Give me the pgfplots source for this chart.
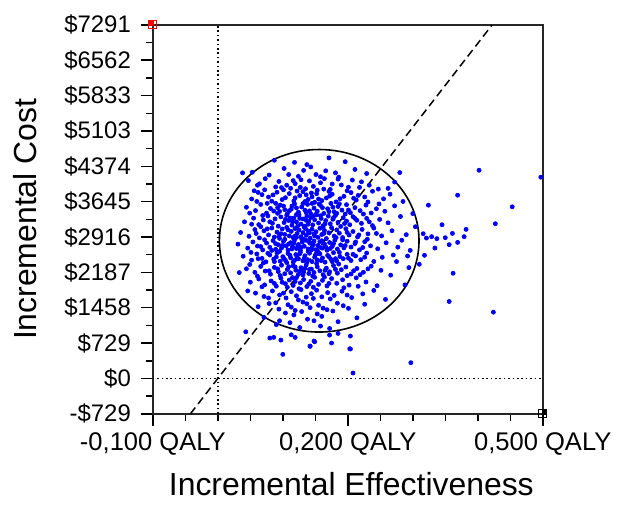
\documentclass[border=0pt]{standalone}
\usepackage{pgfplots}
\pgfplotsset{compat=1.18}
\usepackage{fontspec}
\setmainfont{Liberation Sans}
\definecolor{ptblue}{RGB}{0,0,255}

\begin{document}
\begin{tikzpicture}
\begin{axis}[
    scale only axis,
    width=195.5pt, height=195pt,
    xmin=-0.1, xmax=0.5,
    ymin=-729.1, ymax=7291,
    clip=false,
    xtick={-0.1,0.2,0.5},
    xticklabels={{-0,100 QALY},{0,200 QALY},{0,500 QALY}},
    minor xtick={-0.05,0,0.05,0.1,0.15,0.25,0.3,0.35,0.4,0.45},
    ytick={-729.1,0,729.1,1458.2,2187.3,2916.4,3645.5,4374.6,5103.7,5832.8,6561.9,7291},
    yticklabels={-\$729,\$0,\$729,\$1458,\$2187,\$2916,\$3645,\$4374,\$5103,\$5833,\$6562,\$7291},
    minor y tick num=1,
    xtick pos=lower, ytick pos=left,
    tick align=outside,
    major tick length=6pt, minor tick length=3.5pt,
    tick style={black, line width=0.75pt},
    axis line style={black!85, line width=1pt},
    yticklabel style={font=\fontsize{12}{14}\selectfont, xshift=-1.5pt},
    xticklabel style={font=\fontsize{12.8}{15}\selectfont},
    xlabel={Incremental Effectiveness},
    ylabel={Incremental Cost},
    every axis x label/.style={at={(axis description cs:0.509,-0.21)}, anchor=base, font=\fontsize{16}{19}\selectfont},
    every axis y label/.style={at={(axis description cs:-0.327,0.5)}, rotate=90, anchor=center, font=\fontsize{16}{19}\selectfont},
]
% page frame
\path (rel axis cs:-0.392,-0.256) rectangle (rel axis cs:1.189,1.064);

% reference lines
\addplot[black, line width=0.8pt, dash pattern=on 0.8pt off 1.4pt] coordinates {(0,-729.1) (0,7291)};
\addplot[black, line width=0.8pt, dash pattern=on 0.8pt off 1.4pt] coordinates {(-0.1,0) (0.5,0)};
\addplot[black, line width=0.75pt, dash pattern=on 4pt off 2.3pt] coordinates {(-0.04221,-729.1) (0.4221,7291)};

% simulations
\addplot[only marks, mark=*, mark size=1pt, color=ptblue] coordinates {
(0.087,4499) (0.137,4410) (0.171,4548) (0.118,4455) (0.196,4470)
(0.038,4240) (0.053,4252) (0.151,4205) (0.102,4330) (0.166,4282) (0.124,4168) (0.211,4310) (0.079,4195) (0.143,4361) (0.186,4150) (0.229,4226)
(0.061,3985) (0.094,4062) (0.112,3921) (0.128,4098) (0.147,3960) (0.158,4035) (0.173,3898) (0.185,4110) (0.201,3944) (0.072,3890)
(0.135,3912) (0.119,4017) (0.164,4120) (0.098,3936) (0.221,4055) (0.247,3905) (0.047,4080) (0.190,3990) (0.141,4074) (0.106,3985)
(0.052,3702) (0.068,3790) (0.083,3655) (0.091,3840) (0.104,3728) (0.110,3812) (0.117,3660) (0.126,3771) (0.131,3852) (0.139,3690)
(0.145,3745) (0.152,3810) (0.160,3668) (0.167,3722) (0.176,3798) (0.182,3641) (0.194,3755) (0.205,3833) (0.213,3679) (0.226,3742)
(0.238,3860) (0.255,3704) (0.078,3741) (0.122,3866) (0.149,3632) (0.171,3857) (0.099,3689) (0.136,3785) (0.188,3706) (0.062,3836)
(0.216,3774) (0.265,3800)
(0.044,3530) (0.058,3462) (0.066,3588) (0.075,3410) (0.081,3505) (0.089,3611) (0.095,3444) (0.101,3556) (0.107,3397) (0.113,3490)
(0.118,3602) (0.124,3428) (0.129,3535) (0.134,3470) (0.138,3590) (0.143,3395) (0.148,3512) (0.153,3448) (0.158,3567) (0.163,3403)
(0.169,3499) (0.174,3610) (0.179,3437) (0.185,3546) (0.191,3471) (0.198,3584) (0.204,3418) (0.211,3523) (0.219,3460) (0.228,3575)
(0.236,3412) (0.244,3500) (0.257,3447) (0.272,3560) (0.121,3518) (0.136,3420) (0.156,3598) (0.092,3522) (0.177,3532) (0.110,3459)
(0.145,3610) (0.196,3390)
(0.041,3230) (0.055,3305) (0.063,3172) (0.070,3268) (0.077,3351) (0.084,3199) (0.088,3290) (0.093,3140) (0.097,3332) (0.102,3215)
(0.106,3366) (0.109,3258) (0.114,3160) (0.117,3310) (0.121,3228) (0.125,3372) (0.128,3183) (0.131,3289) (0.134,3142) (0.137,3345)
(0.140,3240) (0.143,3318) (0.146,3167) (0.149,3271) (0.152,3374) (0.155,3205) (0.159,3300) (0.162,3148) (0.166,3256) (0.170,3348)
(0.173,3190) (0.177,3283) (0.181,3362) (0.185,3220) (0.189,3135) (0.193,3315) (0.198,3244) (0.203,3170) (0.208,3336) (0.214,3262)
(0.221,3198) (0.229,3301) (0.238,3152) (0.249,3279) (0.262,3210) (0.281,3340) (0.115,3233) (0.139,3180) (0.158,3356) (0.126,3302)
(0.035,3010) (0.048,2932) (0.057,3070) (0.064,2898) (0.071,3045) (0.078,2960) (0.083,3102) (0.087,2915) (0.091,3018) (0.095,2887)
(0.099,3082) (0.103,2970) (0.106,3115) (0.110,2940) (0.113,3033) (0.116,2902) (0.119,3090) (0.122,2988) (0.125,3060) (0.128,2921)
(0.131,3007) (0.133,3118) (0.136,2952) (0.139,3040) (0.142,2893) (0.145,3078) (0.148,2977) (0.151,3025) (0.154,2910) (0.157,3096)
(0.160,2968) (0.164,3052) (0.167,2885) (0.171,3005) (0.175,3110) (0.179,2936) (0.183,3064) (0.187,2995) (0.192,2905) (0.197,3087)
(0.202,2958) (0.208,3030) (0.215,2918) (0.222,3073) (0.231,2982) (0.240,3101) (0.252,2940) (0.268,3047) (0.290,2965) (0.118,2930)
(0.141,3002) (0.162,3121) (0.129,2880) (0.097,2985)
(0.031,2770) (0.046,2688) (0.054,2815) (0.061,2730) (0.069,2651) (0.075,2792) (0.080,2705) (0.085,2842) (0.089,2663) (0.093,2758)
(0.098,2690) (0.101,2825) (0.105,2733) (0.108,2648) (0.112,2800) (0.115,2716) (0.118,2856) (0.121,2679) (0.124,2762) (0.127,2640)
(0.130,2811) (0.133,2725) (0.136,2849) (0.139,2670) (0.142,2787) (0.145,2702) (0.148,2835) (0.151,2655) (0.154,2741) (0.157,2818)
(0.161,2687) (0.164,2776) (0.168,2644) (0.172,2803) (0.176,2722) (0.180,2851) (0.184,2668) (0.189,2755) (0.194,2693) (0.199,2830)
(0.205,2710) (0.211,2781) (0.218,2652) (0.226,2820) (0.235,2735) (0.246,2674) (0.259,2798) (0.277,2708) (0.123,2733) (0.144,2650)
(0.109,2771) (0.166,2712)
(0.039,2520) (0.052,2440) (0.060,2568) (0.068,2475) (0.074,2405) (0.080,2546) (0.086,2460) (0.091,2590) (0.096,2418) (0.100,2511)
(0.104,2435) (0.108,2578) (0.112,2490) (0.116,2402) (0.120,2555) (0.124,2467) (0.127,2601) (0.131,2426) (0.134,2530) (0.138,2451)
(0.141,2583) (0.145,2410) (0.149,2502) (0.153,2444) (0.157,2570) (0.161,2485) (0.165,2398) (0.169,2538) (0.174,2457) (0.178,2594)
(0.183,2422) (0.188,2515) (0.193,2470) (0.199,2560) (0.205,2432) (0.212,2526) (0.220,2449) (0.229,2586) (0.240,2412) (0.253,2498)
(0.270,2545) (0.133,2478) (0.118,2436) (0.151,2560) (0.090,2505) (0.176,2411)
(0.044,2262) (0.057,2188) (0.066,2310) (0.073,2215) (0.081,2150) (0.087,2290) (0.093,2204) (0.098,2335) (0.103,2160) (0.107,2248)
(0.112,2178) (0.116,2320) (0.120,2232) (0.124,2145) (0.128,2284) (0.132,2196) (0.136,2340) (0.140,2165) (0.144,2256) (0.148,2184)
(0.153,2302) (0.157,2221) (0.162,2140) (0.167,2275) (0.172,2200) (0.178,2328) (0.184,2170) (0.190,2242) (0.197,2297) (0.205,2155)
(0.214,2268) (0.224,2190) (0.236,2315) (0.251,2230) (0.126,2210) (0.109,2305) (0.141,2248) (0.171,2160)
(0.050,1985) (0.063,2052) (0.072,1930) (0.082,2011) (0.090,1902) (0.097,2068) (0.104,1955) (0.110,2030) (0.116,1918) (0.121,2079)
(0.127,1970) (0.132,2040) (0.137,1895) (0.143,2003) (0.149,2085) (0.155,1940) (0.161,2022) (0.168,1908) (0.175,2060) (0.183,1962)
(0.192,2035) (0.202,1925) (0.213,2075) (0.228,1990) (0.245,1912) (0.119,1999) (0.140,1948) (0.099,1984)
(0.058,1760) (0.071,1690) (0.084,1805) (0.095,1722) (0.105,1660) (0.113,1790) (0.121,1705) (0.128,1832) (0.136,1676) (0.144,1748)
(0.152,1820) (0.160,1683) (0.169,1770) (0.179,1712) (0.191,1798) (0.206,1668) (0.223,1745) (0.240,1815)
(0.062,1480) (0.079,1545) (0.094,1430) (0.108,1520) (0.119,1402) (0.131,1575) (0.142,1460) (0.155,1508) (0.168,1418) (0.184,1552)
(0.201,1445) (0.226,1530)
(0.071,1260) (0.095,1190) (0.117,1310) (0.138,1222) (0.160,1280) (0.185,1170) (0.214,1250)
(0.043,962) (0.080,833) (0.086,847) (0.097,791) (0.100,497) (0.113,901) (0.119,847) (0.142,662) (0.149,757) (0.172,894)
(0.175,730) (0.185,929) (0.204,874) (0.204,607) (0.208,113) (0.297,325) (0.203,613) (0.148,771) (0.142,668) (0.126,1050)
(0.158,1080) (0.090,1110)
(0.033,2183) (0.046,1805)
(0.402,4293) (0.453,3540) (0.369,3779) (0.324,3573) (0.427,3191) (0.345,3170) (0.382,3074) (0.361,2991) (0.379,2924) (0.350,2903)
(0.337,2883) (0.329,2924) (0.321,2895) (0.316,2985) (0.369,2806) (0.356,2759) (0.334,2689) (0.318,2539) (0.310,2354) (0.362,2169)
(0.356,1587) (0.424,1367) (0.280,4246) (0.304,3129) (0.294,2286) (0.292,2525) (0.497,4150)
(0.262,3920) (0.285,3650) (0.275,2410) (0.266,2130) (0.288,1930) (0.300,3400) (0.258,1630) (0.283,2850) (0.296,2640) (0.272,4050)
(0.073,4120) (0.109,4205) (0.132,4290) (0.158,4160) (0.181,4240) (0.064,4015) (0.089,3950) (0.116,4080) (0.153,3880) (0.176,4010)
(0.207,4090) (0.233,3985) (0.056,3870) (0.085,3785) (0.127,3940) (0.144,3825) (0.163,3905) (0.199,3870) (0.218,3940) (0.101,3890)
(0.076,3610) (0.119,3725) (0.134,3648) (0.155,3700) (0.172,3760) (0.187,3600) (0.209,3715) (0.231,3640) (0.096,3575) (0.060,3650)
(0.049,3410) (0.069,3360) (0.086,3452) (0.103,3481) (0.121,3380) (0.141,3455) (0.161,3522) (0.183,3405) (0.201,3475) (0.224,3390)
(0.114,3555) (0.131,3605) (0.151,3385) (0.171,3440) (0.248,3600) (0.080,3230) (0.092,3405) (0.111,3310) (0.123,3150) (0.136,3260)
(0.147,3350) (0.165,3190) (0.178,3315) (0.195,3195) (0.211,3300) (0.233,3230) (0.066,3130) (0.052,3180) (0.104,3280)
(0.059,2990) (0.076,3085) (0.094,2935) (0.108,3065) (0.121,2910) (0.135,3090) (0.149,2940) (0.163,2990) (0.182,2905) (0.199,3010)
(0.217,2960) (0.244,2990) (0.072,2860) (0.089,2780) (0.103,2870) (0.117,2795) (0.132,2870) (0.147,2760) (0.160,2840) (0.178,2780)
(0.192,2860) (0.212,2815) (0.230,2870) (0.066,2720) (0.083,2640) (0.099,2740) (0.114,2670) (0.128,2700) (0.141,2810) (0.158,2700)
(0.173,2680) (0.196,2740) (0.223,2700) (0.051,2600) (0.077,2580) (0.095,2620) (0.111,2540) (0.126,2570) (0.139,2620) (0.155,2600)
(0.171,2510) (0.187,2600) (0.208,2560) (0.062,2470) (0.087,2410) (0.102,2470) (0.122,2500) (0.137,2395) (0.159,2430) (0.181,2470)
(0.201,2480) (0.226,2500)
(0.049,2350) (0.070,2380) (0.092,2260) (0.106,2390) (0.119,2300) (0.134,2270) (0.152,2370) (0.165,2230) (0.186,2360) (0.209,2220)
(0.231,2260) (0.061,2110) (0.079,2220) (0.096,2120) (0.115,2080) (0.131,2135) (0.146,2110) (0.164,2090) (0.181,2250) (0.199,2120)
(0.219,2140) (0.068,1890) (0.087,1960) (0.107,1880) (0.125,1850) (0.147,1880) (0.171,1960) (0.194,1870) (0.216,1900) (0.078,1660)
(0.101,1760) (0.124,1620) (0.147,1650) (0.173,1640) (0.199,1720) (0.089,1560) (0.113,1470) (0.137,1540) (0.162,1450) (0.193,1500)
(0.104,1350) (0.129,1380) (0.153,1330) (0.177,1390) (0.111,1150) (0.148,1190) (0.172,1030)
};

% confidence ellipse
\draw[black, line width=0.8pt] (axis cs:0.156,2839) ellipse [x radius=0.1536, y radius=1882];

% corner markers
\addplot[only marks, mark=square, mark size=2pt, red, mark options={line width=0.5pt}] coordinates {(-0.1,7291)};
\addplot[only marks, mark=square*, mark size=1pt, red, mark options={xshift=-0.6pt, yshift=0.6pt}] coordinates {(-0.1,7291)};
\addplot[only marks, mark=square, mark size=2pt, black, mark options={line width=0.5pt}] coordinates {(0.5,-729.1)};
\addplot[only marks, mark=square*, mark size=1pt, black, mark options={xshift=0.6pt, yshift=0.6pt}] coordinates {(0.5,-729.1)};
\end{axis}
\end{tikzpicture}
\end{document}
